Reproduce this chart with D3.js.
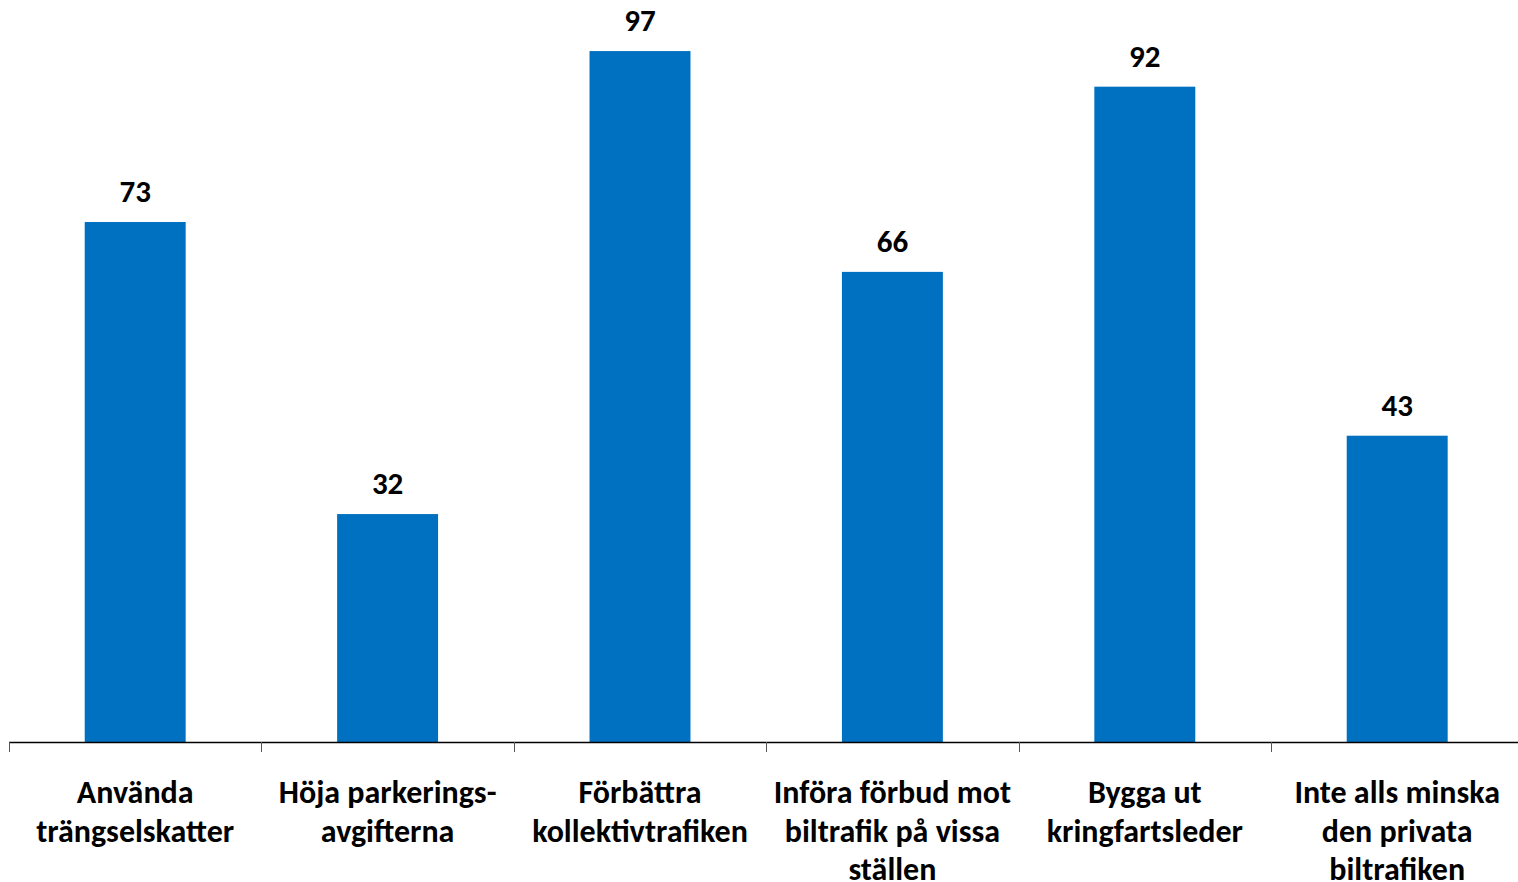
<!DOCTYPE html>
<html><head><meta charset="utf-8">
<script src="https://cdn.jsdelivr.net/npm/d3@7"></script>
<style>body{margin:0;background:#fff}svg{display:block}</style>
</head><body>
<svg id="c" width="1518" height="882"></svg>
<script>
const categories = [
  ["Använda", "trängselskatter"],
  ["Höja parkerings-", "avgifterna"],
  ["Förbättra", "kollektivtrafiken"],
  ["Införa förbud mot", "biltrafik på vissa", "ställen"],
  ["Bygga ut", "kringfartsleder"],
  ["Inte alls minska", "den privata", "biltrafiken"]
];
const values = [73, 32, 97, 66, 92, 43];

const svg = d3.select("#c");
const font = "Carlito, Lato, 'Open Sans', sans-serif";
const x = d3.scaleBand().domain(d3.range(categories.length)).range([9, 1523.4]).paddingInner(0).paddingOuter(0);
const y = d3.scaleLinear().domain([0, 104.17]).range([742, 0]);
const bw = x.bandwidth() * 0.4;

svg.selectAll("rect.bar").data(values).join("rect")
  .attr("class", "bar")
  .attr("x", (d, i) => x(i) + x.bandwidth() / 2 - bw / 2)
  .attr("y", d => y(d))
  .attr("width", bw)
  .attr("height", d => y(0) - y(d))
  .attr("fill", "#0070C0");

svg.selectAll("text.val").data(values).join("text")
  .attr("class", "val")
  .attr("x", (d, i) => x(i) + x.bandwidth() / 2)
  .attr("y", d => y(d) - 20)
  .attr("text-anchor", "middle")
  .attr("font-family", font).attr("font-weight", "bold").attr("font-size", 31)
  .attr("fill", "#000")
  .text(d => d);

// axis
const ax = svg.append("g");
ax.append("line").attr("x1", 9).attr("x2", 1518).attr("y1", 742.5).attr("y2", 742.5)
  .attr("stroke", "#000").attr("stroke-width", 1.3);
ax.selectAll("line.tick").data(d3.range(categories.length)).join("line")
  .attr("class", "tick")
  .attr("x1", i => Math.round(x(i)) + 0.5).attr("x2", i => Math.round(x(i)) + 0.5)
  .attr("y1", 742).attr("y2", 752)
  .attr("stroke", "#555").attr("stroke-width", 1);

const lab = svg.selectAll("text.cat").data(categories).join("text")
  .attr("class", "cat")
  .attr("text-anchor", "middle")
  .attr("font-family", font).attr("font-weight", "bold").attr("font-size", 32)
  .attr("fill", "#000");
lab.each(function(lines, i) {
  d3.select(this).selectAll("tspan").data(lines).join("tspan")
    .attr("x", x(i) + x.bandwidth() / 2)
    .attr("y", (l, j) => 803 + j * 38.5)
    .text(l => l);
});
</script>
</body></html>
